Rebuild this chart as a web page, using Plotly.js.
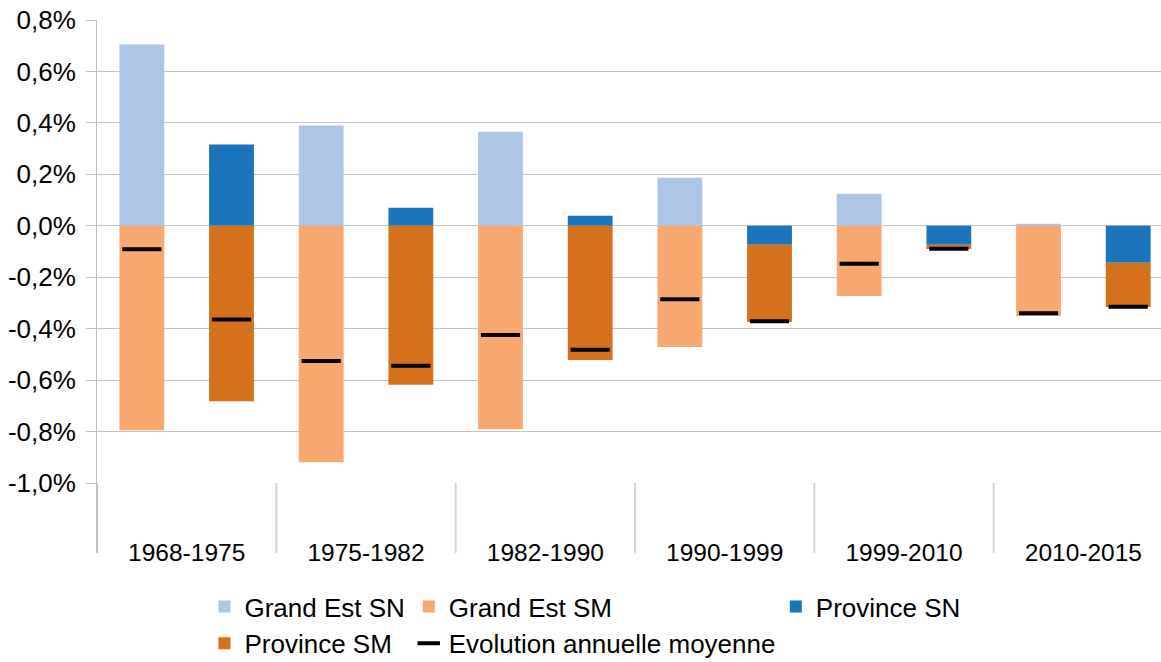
<!DOCTYPE html>
<html>
<head>
<meta charset="utf-8">
<script src="https://cdn.plot.ly/plotly-3.0.1.min.js"></script>
<style>
  html, body { margin: 0; padding: 0; background: #fff; }
  #chart { width: 1161px; height: 662px; }
</style>
</head>
<body>
<div id="chart"></div>
<script>
// periods and values (in %)
var periods = ['1968-1975', '1975-1982', '1982-1990', '1990-1999', '1999-2010', '2010-2015'];
var grandEstSN = [0.705, 0.390, 0.366, 0.187, 0.125, 0.008];
var grandEstSM = [-0.795, -0.919, -0.791, -0.471, -0.273, -0.351];
var grandEstEvol = [-0.091, -0.526, -0.425, -0.286, -0.148, -0.340];
var provinceSN = [0.316, 0.070, 0.039, -0.074, -0.074, -0.144];
var provinceSM = [-0.682, -0.618, -0.522, -0.300, -0.016, -0.172];
var provinceEvol = [-0.364, -0.544, -0.482, -0.371, -0.089, -0.315];
var yTicks = [-1.0, -0.8, -0.6, -0.4, -0.2, 0, 0.2, 0.4, 0.6, 0.8];

var idx = periods.map(function(p, i) { return i; });
var xGE = idx.map(function(i) { return i - 0.25; });
var xProv = idx.map(function(i) { return i + 0.25; });

var family = 'Liberation Sans, Arial, sans-serif';
var font = {family: family, size: 24, color: '#000'};
var xRange = [-0.5, 5.433];

function bar(name, x, y, color, legend) {
  return {
    type: 'bar', name: name, x: x, y: y, width: 0.25,
    marker: {color: color, line: {width: 0}},
    legend: legend, hoverinfo: 'y+name'
  };
}

var data = [
  bar('Grand Est SN', xGE, grandEstSN, '#adc5e7', 'legend'),
  bar('Grand Est SM', xGE, grandEstSM, '#f9a970', 'legend2'),
  bar('Province SN', xProv, provinceSN, '#1b75bc', 'legend3'),
  bar('Province SM', xProv, provinceSM, '#d5711b', 'legend'),
  {
    type: 'scatter', mode: 'markers', name: 'Evolution annuelle moyenne',
    x: xGE.concat(xProv), y: grandEstEvol.concat(provinceEvol),
    marker: {symbol: 'line-ew', size: 28, color: '#000', line: {color: '#000', width: 4}},
    legend: 'legend2', cliponaxis: false
  }
];

// vertical separators under the category axis
var shapes = [];
for (var k = 0; k <= periods.length; k++) {
  var xp = (k - 0.5 - xRange[0]) / (xRange[1] - xRange[0]);
  shapes.push({
    type: 'line', xref: 'paper', yref: 'paper', x0: xp, x1: xp, y0: 0, y1: -0.151,
    line: {color: k === 0 ? '#bfbfbf' : '#d3d3d3', width: 2}
  });
}

var legendBase = {
  orientation: 'v', yanchor: 'top', y: -0.216, xanchor: 'left',
  font: {family: family, size: 26, color: '#000'},
  bgcolor: 'rgba(0,0,0,0)', tracegroupgap: 0, itemclick: false
};

var layout = {
  width: 1161,
  height: 662,
  margin: {l: 97, r: 0, t: 20, b: 179, autoexpand: false},
  paper_bgcolor: '#fff',
  plot_bgcolor: '#fff',
  font: font,
  barmode: 'relative',
  showlegend: true,
  xaxis: {
    range: xRange,
    tickvals: idx,
    ticktext: periods,
    ticks: '',
    showgrid: false,
    zeroline: false,
    showline: false,
    ticklabelstandoff: 52,
    tickfont: {family: family, size: 24.5, color: '#000'},
    automargin: false
  },
  yaxis: {
    range: [-1.0, 0.8],
    tickvals: yTicks,
    ticktext: yTicks.map(function(v) { return v.toFixed(1).replace('.', ',') + '%'; }),
    ticks: 'outside',
    ticklen: 10,
    tickcolor: '#bfbfbf',
    tickwidth: 1,
    showgrid: true,
    gridcolor: '#c4c4c4',
    gridwidth: 1,
    zeroline: false,
    showline: true,
    linecolor: '#bfbfbf',
    linewidth: 1,
    ticklabelstandoff: 5,
    tickfont: {family: family, size: 26, color: '#000'},
    automargin: false
  },
  shapes: shapes,
  legend: Object.assign({}, legendBase, {x: 0.101}),
  legend2: Object.assign({}, legendBase, {x: 0.293}),
  legend3: Object.assign({}, legendBase, {x: 0.638})
};

Plotly.newPlot('chart', data, layout, {displayModeBar: false, staticPlot: true});
</script>
</body>
</html>
